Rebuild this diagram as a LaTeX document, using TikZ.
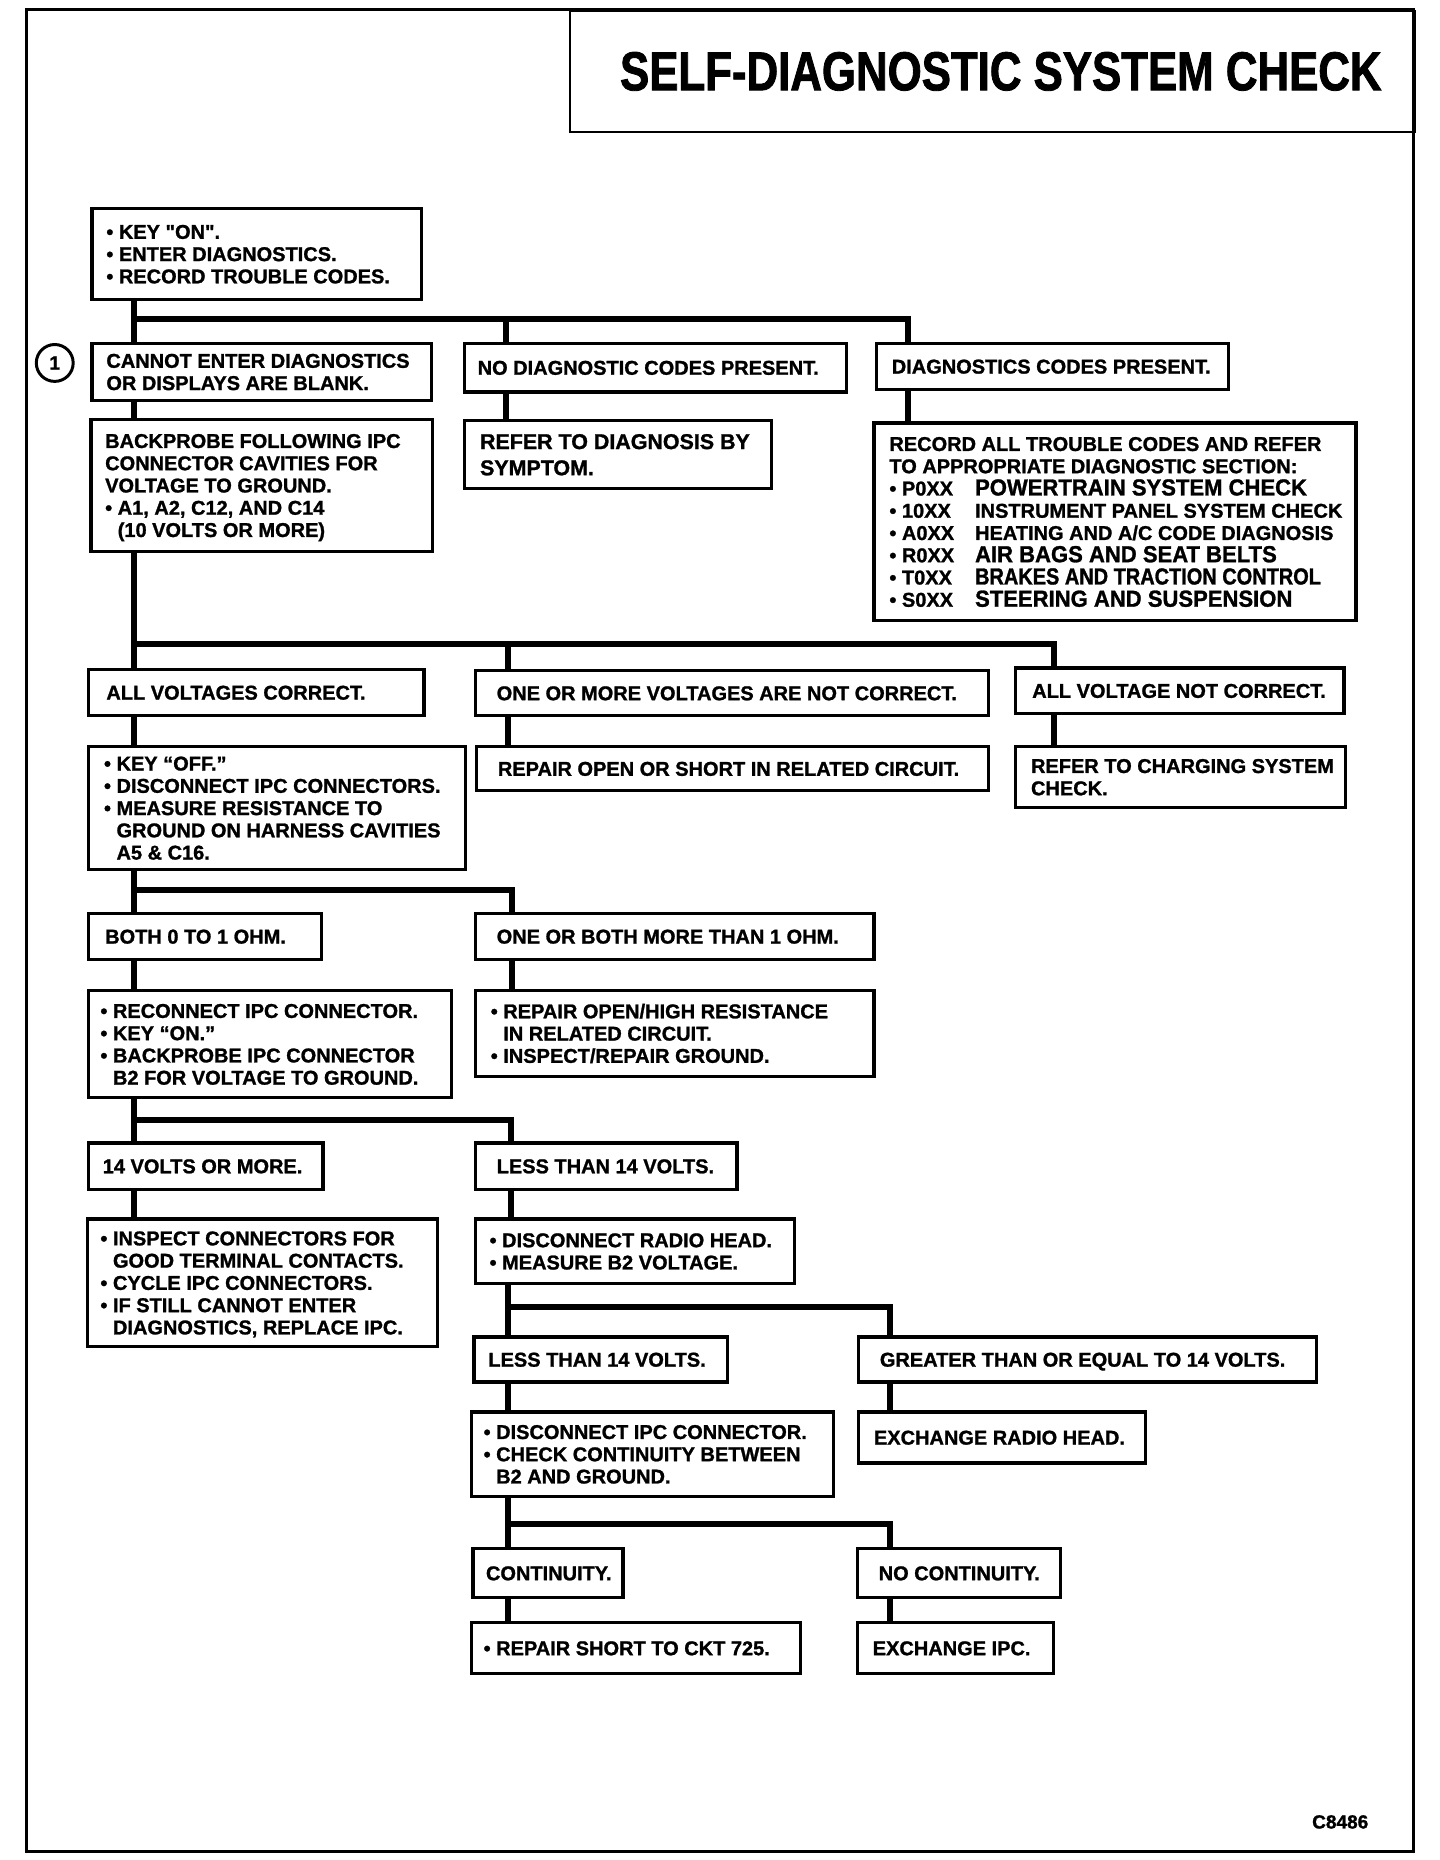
\documentclass[tikz,border=0pt]{standalone}
\usepackage{fontspec}
\usepackage{array}
\setmainfont{Liberation Sans}[BoldFeatures={FakeBold=1.2}]
\newfontfamily\condf[FakeStretch=0.95,BoldFeatures={FakeBold=1.2}]{Liberation Sans}
\newfontfamily\condn[FakeStretch=0.86,BoldFeatures={FakeBold=1.2}]{Liberation Sans}
\newfontfamily\titlef[FakeStretch=0.8,BoldFeatures={FakeBold=1.5}]{Liberation Sans}
\renewcommand\arraystretch{0}
\newcommand\myls{\rule[-3.35pt]{0pt}{18.7pt}}
\newcommand\mybl{•\ }
\newcommand\myind{\hphantom{•\ }}
\newcommand\bigc[1]{{\condf\fontsize{19.5}{18.7}\selectfont #1}}
\newcommand\code[1]{\makebox[72pt][l]{•\ #1}}
\tikzset{
  flowbox/.style={draw, line width=2.8pt, inner sep=0pt, font=\bfseries\fontsize{16.8}{18.7}\selectfont},
  conn/.style={line width=5pt}
}
\newcommand\mybox[8]{%
  \node[flowbox, minimum width={#4-#2}, minimum height={#5-#3}, anchor=north west] (#1) at (#2,#3)
   {#7\makebox[\dimexpr #4pt-#2pt-#6pt-#6pt\relax][l]{\begin{tabular}{@{}>{\myls}l@{}}#8\end{tabular}}};}
\begin{document}
\begin{tikzpicture}[x=1pt,y=-1pt]
\fill[white] (0,0) rectangle (1210,1563);
\useasboundingbox (0,0) rectangle (1210,1563);
% outer frame and title
\draw[line width=2.5pt] (22,8) rectangle (1188,1556);
\node[draw, line width=2pt, minimum width=710, minimum height=102, anchor=north west, inner sep=0pt,
      font=\titlef\bfseries\fontsize{46}{50}\selectfont] (title) at (478,8) {\hspace*{14pt}SELF-DIAGNOSTIC SYSTEM CHECK};
% circle 1
\node[circle, draw, line width=2.5pt, minimum size=31pt, inner sep=0pt, font=\bfseries\fontsize{16}{16}\selectfont] (c1) at (46,305) {1};
% boxes
\mybox{key}{76}{174}{353}{250}{12}{}{\mybl KEY \textquotedbl ON\textquotedbl.\\ \mybl ENTER DIAGNOSTICS.\\ \mybl RECORD TROUBLE CODES.}
\mybox{cannot}{76}{287}{361}{335}{12}{}{CANNOT ENTER DIAGNOSTICS\\ OR DISPLAYS ARE BLANK.}
\mybox{nodiag}{389}{287}{710}{328}{11}{}{NO DIAGNOSTIC CODES PRESENT.}
\mybox{dcp}{735}{287}{1031}{326}{13}{}{DIAGNOSTICS CODES PRESENT.}
\mybox{back}{75}{351}{362}{462}{12}{}{BACKPROBE FOLLOWING IPC\\ CONNECTOR CAVITIES FOR\\ VOLTAGE TO GROUND.\\ \mybl A1, A2, C12, AND C14\\ \myind(10 VOLTS OR MORE)}
\mybox{symptom}{389}{352}{647}{409}{13}{\fontsize{18}{22}\selectfont\renewcommand\myls{\rule[-4.55pt]{0pt}{22pt}}}{REFER TO DIAGNOSIS BY\\ SYMPTOM.}
\mybox{record}{733}{354}{1138}{520}{13}{}{RECORD ALL TROUBLE CODES AND REFER\\ TO APPROPRIATE DIAGNOSTIC SECTION:\\
 \code{P0XX}\bigc{POWERTRAIN SYSTEM CHECK}\\
 \code{10XX}INSTRUMENT PANEL SYSTEM CHECK\\
 \code{A0XX}HEATING AND A/C CODE DIAGNOSIS\\
 \code{R0XX}\bigc{AIR BAGS AND SEAT BELTS}\\
 \code{T0XX}{\condn\fontsize{19.5}{18.7}\selectfont BRAKES AND TRACTION CONTROL}\\
 \code{S0XX}\bigc{STEERING AND SUSPENSION}}
\mybox{allv}{73}{561}{355}{600}{15}{}{ALL VOLTAGES CORRECT.}
\mybox{onemore}{398}{562}{829}{600}{18}{}{ONE OR MORE VOLTAGES ARE NOT CORRECT.}
\mybox{allvnot}{852}{560}{1128}{598}{14}{}{ALL VOLTAGE NOT CORRECT.}
\mybox{keyoff}{73}{626}{390}{729}{13}{}{\mybl KEY “OFF.”\\ \mybl DISCONNECT IPC CONNECTORS.\\ \mybl MEASURE RESISTANCE TO\\ \myind GROUND ON HARNESS CAVITIES\\ \myind A5 \& C16.}
\mybox{repair1}{399}{626}{829}{663}{18}{}{REPAIR OPEN OR SHORT IN RELATED CIRCUIT.}
\mybox{charging}{852}{626}{1129}{677}{13}{}{REFER TO CHARGING SYSTEM\\ CHECK.}
\mybox{both01}{73}{766}{269}{805}{14}{}{BOTH 0 TO 1 OHM.}
\mybox{onebothmore}{398}{766}{733}{805}{18}{}{ONE OR BOTH MORE THAN 1 OHM.}
\mybox{reconnect}{73}{831}{378}{921}{10}{}{\mybl RECONNECT IPC CONNECTOR.\\ \mybl KEY “ON.”\\ \mybl BACKPROBE IPC CONNECTOR\\ \myind B2 FOR VOLTAGE TO GROUND.}
\mybox{repairhigh}{398}{831}{733}{903}{13}{}{\mybl REPAIR OPEN/HIGH RESISTANCE\\ \myind IN RELATED CIRCUIT.\\ \mybl INSPECT/REPAIR GROUND.}
\mybox{v14more}{73}{959}{270}{998}{12}{}{14 VOLTS OR MORE.}
\mybox{less14a}{398}{959}{618}{998}{18}{}{LESS THAN 14 VOLTS.}
\mybox{inspect}{72}{1023}{366}{1130}{11}{}{\mybl INSPECT CONNECTORS FOR\\ \myind GOOD TERMINAL CONTACTS.\\ \mybl CYCLE IPC CONNECTORS.\\ \mybl IF STILL CANNOT ENTER\\ \myind DIAGNOSTICS, REPLACE IPC.}
\mybox{radio}{398}{1023}{666}{1077}{12}{}{\mybl DISCONNECT RADIO HEAD.\\ \mybl MEASURE B2 VOLTAGE.}
\mybox{less14b}{397}{1122}{610}{1160}{12}{}{LESS THAN 14 VOLTS.}
\mybox{greater}{720}{1122}{1105}{1160}{18}{}{GREATER THAN OR EQUAL TO 14 VOLTS.}
\mybox{discipc}{395}{1185}{699}{1256}{10}{}{\mybl DISCONNECT IPC CONNECTOR.\\ \mybl CHECK CONTINUITY BETWEEN\\ \myind B2 AND GROUND.}
\mybox{exradio}{720}{1185}{961}{1228}{13}{}{EXCHANGE RADIO HEAD.}
\mybox{cont}{396}{1300}{522}{1341}{11}{}{CONTINUITY.}
\mybox{nocont}{719}{1300}{890}{1341}{18}{}{NO CONTINUITY.}
\mybox{repshort}{395}{1362}{671}{1405}{10}{}{\mybl REPAIR SHORT TO CKT 725.}
\mybox{exipc}{719}{1362}{884}{1405}{13}{}{EXCHANGE IPC.}
% figure code
\node[anchor=east, inner sep=0pt, font=\bfseries\fontsize{16}{16}\selectfont] (fig) at (1150,1531) {C8486};
% connectors
\coordinate (p1) at (113,268); \coordinate (p2) at (425,268); \coordinate (p3) at (763,268);
\draw[conn] (key.south -| p1) -- (p1) -- (p3) -- (dcp.north -| p3);
\draw[conn] (p1) -- (cannot.north -| p1);
\draw[conn] (p2) -- (nodiag.north -| p2);
\draw[conn] (cannot.south -| p1) -- (back.north -| p1);
\draw[conn] (nodiag.south -| p2) -- (symptom.north -| p2);
\draw[conn] (dcp.south -| p3) -- (record.north -| p3);
\coordinate (q1) at (113,541); \coordinate (q2) at (427,541); \coordinate (q3) at (886,541);
\draw[conn] (back.south -| q1) -- (q1) -- (q3) -- (allvnot.north -| q3);
\draw[conn] (q1) -- (allv.north -| q1);
\draw[conn] (q2) -- (onemore.north -| q2);
\draw[conn] (allv.south -| q1) -- (keyoff.north -| q1);
\draw[conn] (onemore.south -| q2) -- (repair1.north -| q2);
\draw[conn] (allvnot.south -| q3) -- (charging.north -| q3);
\coordinate (r1) at (113,748); \coordinate (r2) at (430,748);
\draw[conn] (keyoff.south -| r1) -- (r1) -- (r2) -- (onebothmore.north -| r2);
\draw[conn] (r1) -- (both01.north -| r1);
\draw[conn] (both01.south -| r1) -- (reconnect.north -| r1);
\draw[conn] (onebothmore.south -| r2) -- (repairhigh.north -| r2);
\coordinate (s1) at (113,941); \coordinate (s2) at (429,941);
\draw[conn] (reconnect.south -| s1) -- (s1) -- (s2) -- (less14a.north -| s2);
\draw[conn] (s1) -- (v14more.north -| s1);
\draw[conn] (v14more.south -| s1) -- (inspect.north -| s1);
\draw[conn] (less14a.south -| s2) -- (radio.north -| s2);
\coordinate (t1) at (427,1098); \coordinate (t2) at (748,1098);
\draw[conn] (radio.south -| t1) -- (t1) -- (t2) -- (greater.north -| t2);
\draw[conn] (t1) -- (less14b.north -| t1);
\draw[conn] (less14b.south -| t1) -- (discipc.north -| t1);
\draw[conn] (greater.south -| t2) -- (exradio.north -| t2);
\coordinate (u1) at (427,1281); \coordinate (u2) at (748,1281);
\draw[conn] (discipc.south -| u1) -- (u1) -- (u2) -- (nocont.north -| u2);
\draw[conn] (u1) -- (cont.north -| u1);
\draw[conn] (cont.south -| u1) -- (repshort.north -| u1);
\draw[conn] (nocont.south -| u2) -- (exipc.north -| u2);
\end{tikzpicture}
\end{document}
